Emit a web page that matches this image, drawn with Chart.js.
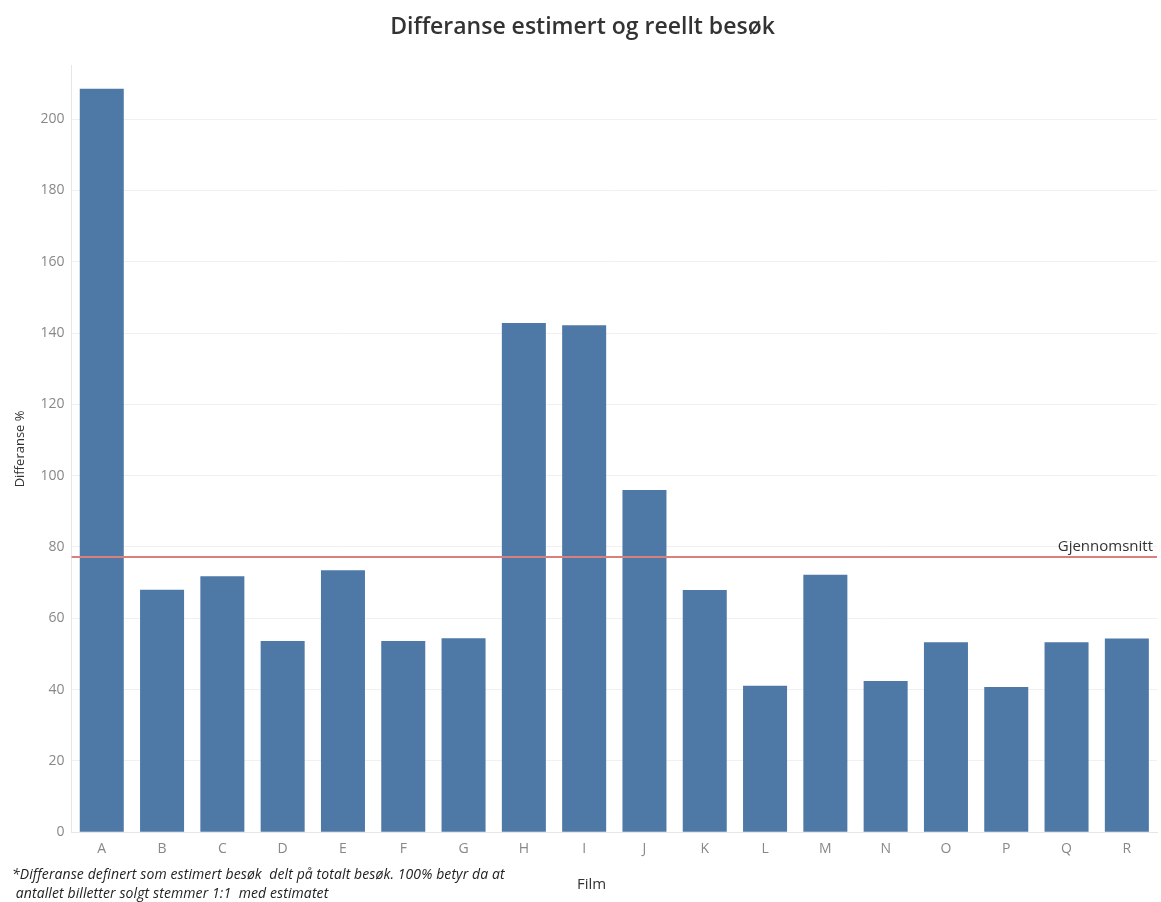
<!DOCTYPE html>
<html>
<head>
<meta charset="utf-8">
<script src="https://cdn.jsdelivr.net/npm/chart.js@4/dist/chart.umd.min.js"></script>
<style>
  body { margin: 0; background: #fff; }
  #wrap { position: relative; width: 1161px; height: 902px; }
  #note {
    position: absolute; left: 12px; top: 864px;
    font-family: "Open Sans", sans-serif; font-style: italic;
    font-size: 14px; line-height: 19px; color: #222; letter-spacing: 0.1px;
  }
  #xtitle {
    position: absolute; left: 577px; top: 873px;
    font-family: "Open Sans", sans-serif; font-size: 15px; color: #333;
  }
</style>
</head>
<body>
<div id="wrap">
  <canvas id="barChart" width="1161" height="902"></canvas>
  <div id="note">*Differanse definert som estimert besøk&nbsp; delt på totalt besøk. 100% betyr da at<br>&nbsp;antallet billetter solgt stemmer 1:1&nbsp; med estimatet</div>
  <div id="xtitle">Film</div>
</div>
<script>
const films = ['A', 'B', 'C', 'D', 'E', 'F', 'G', 'H', 'I', 'J', 'K', 'L', 'M', 'N', 'O', 'P', 'Q', 'R'];
const differanse = [208.5, 68.0, 71.8, 53.6, 73.5, 53.6, 54.4, 142.8, 142.2, 96.0, 67.9, 41.1, 72.2, 42.4, 53.3, 40.7, 53.3, 54.3];
const gjennomsnitt = 77.2;

const font = "'Open Sans', sans-serif";

// red average line with its label
const averageLine = {
  id: 'averageLine',
  afterDatasetsDraw(chart) {
    const { ctx, chartArea, scales } = chart;
    const y = scales.y.getPixelForValue(gjennomsnitt);
    ctx.save();
    ctx.strokeStyle = '#d9807d';
    ctx.lineWidth = 2;
    ctx.beginPath();
    ctx.moveTo(chartArea.left, y);
    ctx.lineTo(chartArea.right, y);
    ctx.stroke();
    ctx.fillStyle = '#333';
    ctx.font = '15px ' + font;
    ctx.textAlign = 'right';
    ctx.textBaseline = 'bottom';
    ctx.fillText('Gjennomsnitt', chartArea.right - 4, y - 3);
    ctx.restore();
  }
};

new Chart(document.getElementById('barChart').getContext('2d'), {
  type: 'bar',
  data: {
    labels: films,
    datasets: [{
      label: 'Differanse %',
      data: differanse,
      backgroundColor: '#4e79a7',
      categoryPercentage: 1,
      barPercentage: 0.73
    }]
  },
  options: {
    responsive: false,
    animation: false,
    layout: { padding: { left: 8, right: 4, bottom: 45, top: 0 } },
    plugins: {
      legend: { display: false },
      tooltip: { enabled: false },
      title: {
        display: true,
        text: 'Differanse estimert og reellt besøk',
        color: '#333',
        font: { family: font, size: 23, weight: 600 },
        padding: { top: 14, bottom: 24 }
      }
    },
    scales: {
      x: {
        grid: { display: false },
        border: { color: '#e6e6e6' },
        ticks: { color: '#888', font: { family: font, size: 14 }, padding: 0 }
      },
      y: {
        min: 0,
        max: 215,
        afterBuildTicks(scale) {
          scale.ticks = scale.ticks.filter(t => t.value % 20 === 0);
        },
        ticks: { stepSize: 20, color: '#888', font: { family: font, size: 14 }, padding: 7 },
        grid: { color: '#f0f0f0', drawTicks: false },
        border: { color: '#e6e6e6' },
        title: {
          display: true, text: 'Differanse %', color: '#333',
          font: { family: font, size: 13 }, padding: { top: 4, bottom: 6 }
        }
      }
    }
  },
  plugins: [averageLine]
});
</script>
</body>
</html>
